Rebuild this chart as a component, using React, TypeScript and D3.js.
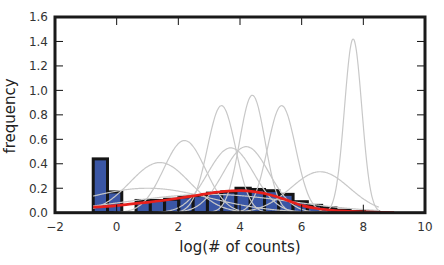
import React from "react";
import * as d3 from "d3";

const W = 444, H = 265;
const M = { left: 55, right: 425, top: 17, bottom: 212.7 };

const xTicks = [-2, 0, 2, 4, 6, 8, 10];
const yTicks = [0, 0.2, 0.4, 0.6, 0.8, 1.0, 1.2, 1.4, 1.6];

// histogram
const binStart = -0.76;
const binWidth = 0.463;
const binHeights = [0.44, 0.17, 0.0, 0.10, 0.10, 0.11, 0.13, 0.14, 0.16, 0.17, 0.20, 0.19, 0.18, 0.15, 0.09, 0.06, 0.04, 0.02, 0.01, 0.005];

// component curves (mean, peak height, sd)
const curveMeans = [7.67, 4.4, 3.4, 5.35, 2.2, 3.7, 4.2, 1.4, 6.6, 1.0, 3.0];
const curvePeaks = [1.42, 0.96, 0.875, 0.875, 0.59, 0.53, 0.54, 0.41, 0.335, 0.2, 0.15];
const curveSds = [0.28, 0.415, 0.456, 0.456, 0.676, 0.75, 0.74, 0.97, 0.95, 2.0, 2.66];
const curveRange = [-0.76, 8.5];

// overall density (red)
const redX = [-0.76, 0, 0.5, 1, 1.5, 2, 2.5, 3, 3.5, 4, 4.5, 5, 5.5, 6, 6.5, 7, 7.5, 8, 8.5, 9];
const redY = [0.045, 0.058, 0.072, 0.085, 0.1, 0.118, 0.138, 0.158, 0.174, 0.18, 0.17, 0.145, 0.105, 0.06, 0.034, 0.02, 0.012, 0.006, 0.002, 0.0];

export default function App() {
  const x = d3.scaleLinear().domain([-2, 10]).range([M.left, M.right]);
  const y = d3.scaleLinear().domain([0, 1.6]).range([M.bottom, M.top]);

  const line = d3.line<[number, number]>().x(d => x(d[0])).y(d => y(d[1])).curve(d3.curveMonotoneX);
  const samples = d3.range(0, 401).map(i => curveRange[0] + (curveRange[1] - curveRange[0]) * i / 400);
  const bell = (m: number, p: number, s: number, v: number) => p * Math.exp(-((v - m) ** 2) / (2 * s * s));

  const font = "'DejaVu Sans', sans-serif";
  return (
    <svg width={W} height={H} style={{ position: "fixed", left: 0, top: 0, background: "#fff" }}>
      <defs>
        <clipPath id="plot">
          <rect x={M.left} y={M.top} width={M.right - M.left} height={M.bottom - M.top} />
        </clipPath>
      </defs>
      <g clipPath="url(#plot)">
        {binHeights.map((h, i) => h > 0 ? (
          <rect key={i} x={x(binStart + i * binWidth)} y={y(h)} width={x(binWidth) - x(0)} height={y(0) - y(h)}
            fill="#3a56a5" stroke="#151515" strokeWidth={3} />
        ) : null)}
        {curveMeans.map((m, i) => (
          <path key={i} d={line(samples.map(v => [v, bell(m, curvePeaks[i], curveSds[i], v)] as [number, number])) || ""}
            fill="none" stroke="#c8c8c8" strokeWidth={1.2} />
        ))}
        <path d={line(redX.map((v, i) => [v, redY[i]] as [number, number])) || ""} fill="none" stroke="#e8201c" strokeWidth={2.7} />
      </g>
      {xTicks.map(t => (
        <g key={"x" + t}>
          <line x1={x(t)} x2={x(t)} y1={M.bottom} y2={M.bottom - 8} stroke="#111" strokeWidth={1} />
          <line x1={x(t)} x2={x(t)} y1={M.top} y2={M.top + 8} stroke="#111" strokeWidth={1} />
          <text x={x(t)} y={231} textAnchor="middle" fontFamily={font} fontSize={12} fill="#333">{t < 0 ? "\u2212" + Math.abs(t) : t}</text>
        </g>
      ))}
      {yTicks.map(t => (
        <g key={"y" + t}>
          <line x1={M.left} x2={M.left + 8} y1={y(t)} y2={y(t)} stroke="#111" strokeWidth={1} />
          <line x1={M.right} x2={M.right - 8} y1={y(t)} y2={y(t)} stroke="#111" strokeWidth={1} />
          <text x={48} y={y(t) + 4.3} textAnchor="end" fontFamily={font} fontSize={12} fill="#333">{t.toFixed(1)}</text>
        </g>
      ))}
      <rect x={M.left} y={M.top} width={M.right - M.left} height={M.bottom - M.top} fill="none" stroke="#1a1a1a" strokeWidth={3} />
      <text x={240} y={252} textAnchor="middle" fontFamily={font} fontSize={15} fill="#222">log(# of counts)</text>
      <text transform="translate(14.5,116) rotate(-90)" textAnchor="middle" fontFamily={font} fontSize={15} fill="#222">frequency</text>
    </svg>
  );
}
